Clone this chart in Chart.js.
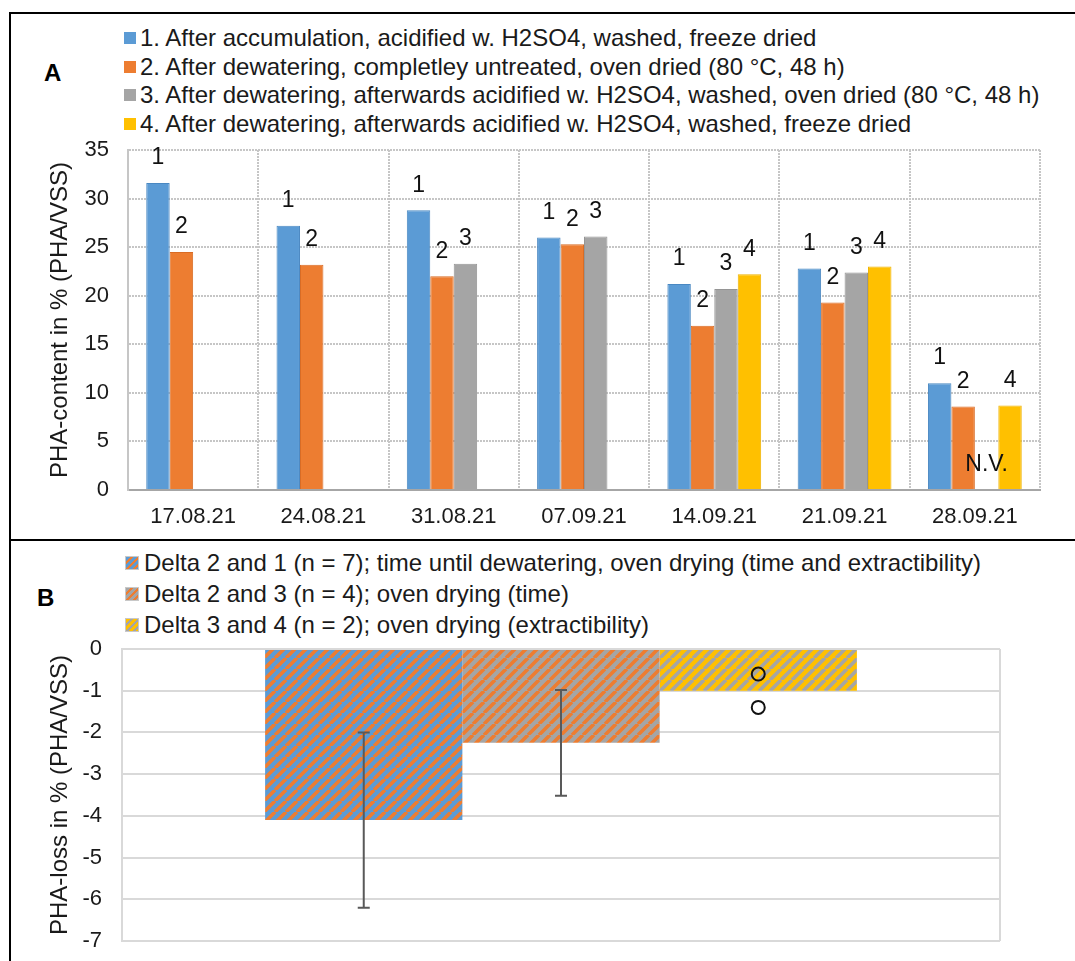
<!DOCTYPE html>
<html lang="en">
<head>
<meta charset="UTF-8">
<title>PHA content and PHA loss</title>
<script src="https://cdn.jsdelivr.net/npm/chart.js@4"></script>
<style>
  body {
    margin: 0;
    background: #fff;
    font-family: 'Liberation Sans', Arial, sans-serif;
    color: #1a1a1a;
  }
  #page {
    position: relative;
    width: 1075px;
    height: 961px;
    overflow: hidden;
  }
  .frame { position: absolute; background: #000; z-index: 5; }
  .panel-label { position: absolute; font-weight: bold; font-size: 24px; line-height: 28px; color: #000; }
  .legend { position: absolute; font-size: 24px; white-space: nowrap; }
  .legend .item { display: flex; align-items: center; }
  .legend .sw { width: 12px; height: 12px; margin-right: 4px; flex: none; }
  #legendA .item { height: 28.5px; }
  #legendB .item { height: 31px; }
  #legendB .sw { width: 12px; height: 12px; margin-right: 6px; box-shadow: 0 0 0 1px #c8c8c8; }
  .box { position: absolute; }
  .box canvas { display: block; }
</style>
</head>
<body>
<div id="page">
  <div class="frame" style="left:9px; top:12px; width:1066px; height:2px;"></div>
  <div class="frame" style="left:9px; top:12px; width:2px; height:949px;"></div>
  <div class="frame" style="left:9px; top:539px; width:1066px; height:2px;"></div>

  <div class="panel-label" style="left:44px; top:59px;">A</div>
  <div class="panel-label" style="left:37px; top:584px;">B</div>

  <div id="legendA" class="legend" style="left:124px; top:24px;"></div>
  <div id="legendB" class="legend" style="left:126px; top:547px;"></div>

  <div class="box" style="left:0; top:135px; width:1075px; height:405px;">
    <canvas id="chartA" width="1075" height="405"></canvas>
  </div>
  <div class="box" style="left:0; top:636px; width:1075px; height:325px;">
    <canvas id="chartB" width="1075" height="325"></canvas>
  </div>
</div>

<script>
// Panel A: PHA content per sampling date
const dates = ['17.08.21', '24.08.21', '31.08.21', '07.09.21', '14.09.21', '21.09.21', '28.09.21'];
const afterAccumulation = [31.6, 27.2, 28.8, 26.0, 21.2, 22.8, 11.0];
const untreatedOven = [24.5, 23.2, 22.0, 25.3, 16.9, 19.3, 8.6];
const acidifiedOven = [null, null, 23.3, 26.1, 20.7, 22.4, null];
const acidifiedFreeze = [null, null, null, null, 22.2, 23.0, 8.7];
const seriesNames = [
  '1. After accumulation, acidified w. H2SO4, washed, freeze dried',
  '2. After dewatering, completley untreated, oven dried (80 °C, 48 h)',
  '3. After dewatering, afterwards acidified w. H2SO4, washed, oven dried (80 °C, 48 h)',
  '4. After dewatering, afterwards acidified w. H2SO4, washed, freeze dried'
];
const seriesMarks = ['1', '2', '3', '4'];
const contentTicks = [0, 5, 10, 15, 20, 25, 30, 35];
const notValued = { series: 2, date: '28.09.21', text: 'N.V.' };

// Panel B: PHA loss between treatments
const deltaNames = [
  'Delta 2 and 1 (n = 7); time until dewatering, oven drying (time and extractibility)',
  'Delta 2 and 3 (n = 4); oven drying (time)',
  'Delta 3 and 4 (n = 2); oven drying (extractibility)'
];
const deltaMeans = [-4.1, -2.25, -1.0];
const deltaErrors = [2.1, 1.27, null];
const delta34Points = [-0.6, -1.4];
const lossTicks = [0, -1, -2, -3, -4, -5, -6, -7];

const FONT = "'Liberation Sans', Arial, sans-serif";
const colors = ['#5b9bd5', '#ed7d31', '#a5a5a5', '#ffc000'];
const borders = ['#4a88c2', '#d96c25', '#959595', '#efb300'];

// diagonal "/" stripes like Excel's wide upward diagonal
function stripes(bg, fg) {
  const s = 11;
  const c = document.createElement('canvas');
  c.width = s; c.height = s;
  const g = c.getContext('2d');
  g.fillStyle = bg;
  g.fillRect(0, 0, s, s);
  g.strokeStyle = fg;
  g.lineWidth = 3.6;
  g.beginPath();
  for (let k = -1; k <= 1; k++) {
    g.moveTo(k * s, s);
    g.lineTo(k * s + s, 0);
  }
  g.stroke();
  return g.createPattern(c, 'repeat');
}
const deltaFills = [
  stripes(colors[0], colors[1]),
  stripes(colors[2], colors[1]),
  stripes(colors[3], colors[2])
];
const deltaCss = [
  [colors[0], colors[1]],
  [colors[2], colors[1]],
  [colors[3], colors[2]]
];

// HTML legends
document.getElementById('legendA').innerHTML = seriesNames.map((n, i) =>
  `<div class="item"><span class="sw" style="background:${colors[i]}"></span>${n}</div>`).join('');
document.getElementById('legendB').innerHTML = deltaNames.map((n, i) =>
  `<div class="item"><span class="sw" style="background:repeating-linear-gradient(135deg, ${deltaCss[i][0]} 0 3px, ${deltaCss[i][1]} 3px 5px)"></span>${n}</div>`).join('');

Chart.defaults.font.family = FONT;
Chart.defaults.color = '#1a1a1a';

// keep the plot box where it is in the original (no extra label padding)
function fixWidth(w) {
  return s => { s.width = w; s.paddingTop = 0; s.paddingBottom = 0; };
}

// labels "1".."4" above the bars plus the N.V. mark
const barMarks = {
  id: 'barMarks',
  afterDatasetsDraw(chart) {
    const ctx = chart.ctx;
    ctx.save();
    ctx.font = '23px ' + FONT;
    ctx.fillStyle = '#111';
    ctx.textAlign = 'center';
    ctx.textBaseline = 'middle';
    chart.data.datasets.forEach((ds, i) => {
      chart.getDatasetMeta(i).data.forEach((bar, j) => {
        if (ds.data[j] == null) return;
        ctx.fillText(seriesMarks[i], bar.x, bar.y - 25);
      });
    });
    const j = dates.indexOf(notValued.date);
    const slot = chart.getDatasetMeta(notValued.series).data[j];
    ctx.fillText(notValued.text, slot.x, chart.scales.y.bottom - 25);
    ctx.restore();
  }
};

new Chart(document.getElementById('chartA'), {
  type: 'bar',
  data: {
    labels: dates,
    datasets: [afterAccumulation, untreatedOven, acidifiedOven, acidifiedFreeze].map((d, i) => ({
      label: seriesNames[i],
      data: d,
      backgroundColor: colors[i],
      borderColor: borders[i],
      borderWidth: 1,
      categoryPercentage: 0.72,
      barPercentage: 1
    }))
  },
  options: {
    responsive: false,
    animation: false,
    devicePixelRatio: 1,
    layout: { padding: { top: 15, right: 35, left: 0, bottom: 0 } },
    plugins: { legend: { display: false }, tooltip: { enabled: false } },
    scales: {
      x: {
        afterFit: s => { s.height = 50; },
        grid: { color: '#c6c6c6', lineWidth: 2, drawTicks: false, offset: true },
        border: { color: '#a6a6a6', width: 2, dash: [2, 1] },
        ticks: { font: { size: 22 }, color: '#1a1a1a', padding: 14 }
      },
      y: {
        min: 0,
        max: 35,
        afterFit: fixWidth(128),
        afterBuildTicks: s => { s.ticks = contentTicks.map(v => ({ value: v })); },
        grid: { color: '#c6c6c6', lineWidth: 2, drawTicks: false },
        border: { color: '#c6c6c6', width: 2, dash: [2, 1] },
        ticks: { font: { size: 22 }, color: '#1a1a1a', padding: 19 },
        title: {
          display: true,
          text: 'PHA-content in % (PHA/VSS)',
          font: { size: 24 },
          color: '#1a1a1a',
          padding: { top: 46, bottom: 0 }
        }
      }
    }
  },
  plugins: [barMarks]
});

// error bars and single values for panel B
const lossMarks = {
  id: 'lossMarks',
  afterDatasetsDraw(chart) {
    const ctx = chart.ctx;
    const y = chart.scales.y;
    ctx.save();
    ctx.strokeStyle = '#595959';
    ctx.lineWidth = 2;
    deltaMeans.forEach((m, i) => {
      const err = deltaErrors[i];
      if (err == null) return;
      const x = chart.getDatasetMeta(i).data[0].x;
      const y1 = y.getPixelForValue(m + err);
      const y2 = y.getPixelForValue(m - err);
      ctx.beginPath();
      ctx.moveTo(x, y1); ctx.lineTo(x, y2);
      ctx.moveTo(x - 6, y1); ctx.lineTo(x + 6, y1);
      ctx.moveTo(x - 6, y2); ctx.lineTo(x + 6, y2);
      ctx.stroke();
    });
    const x3 = chart.getDatasetMeta(2).data[0].x;
    ctx.strokeStyle = '#111';
    delta34Points.forEach(v => {
      ctx.beginPath();
      ctx.arc(x3, y.getPixelForValue(v), 6.5, 0, Math.PI * 2);
      ctx.stroke();
    });
    ctx.restore();
  }
};

new Chart(document.getElementById('chartB'), {
  type: 'bar',
  data: {
    labels: [''],
    datasets: deltaMeans.map((m, i) => ({
      label: deltaNames[i],
      data: [m],
      backgroundColor: deltaFills[i],
      borderWidth: 0,
      categoryPercentage: 0.674,
      barPercentage: 1
    }))
  },
  options: {
    responsive: false,
    animation: false,
    devicePixelRatio: 1,
    layout: { padding: { top: 13, right: 75, left: 0, bottom: 0 } },
    plugins: { legend: { display: false }, tooltip: { enabled: false } },
    scales: {
      x: {
        afterFit: s => { s.height = 20; },
        grid: { color: '#d9d9d9', lineWidth: 2, drawTicks: false, offset: true },
        border: { display: false },
        ticks: { display: false }
      },
      y: {
        min: -7,
        max: 0,
        afterFit: fixWidth(122),
        afterBuildTicks: s => { s.ticks = lossTicks.map(v => ({ value: v })); },
        grid: { color: '#d9d9d9', lineWidth: 2, drawTicks: false },
        border: { color: '#d9d9d9', width: 2 },
        ticks: { font: { size: 22 }, color: '#1a1a1a', padding: 20 },
        title: {
          display: true,
          text: 'PHA-loss in % (PHA/VSS)',
          font: { size: 24 },
          color: '#1a1a1a',
          padding: { top: 46, bottom: 0 }
        }
      }
    }
  },
  plugins: [lossMarks]
});
</script>
</body>
</html>
